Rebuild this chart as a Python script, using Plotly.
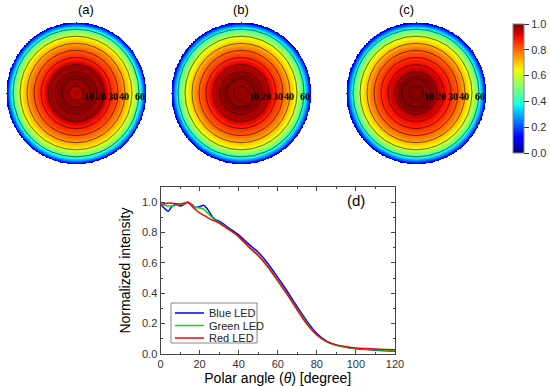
import numpy as np
import plotly.graph_objects as go

# ---------------- data ----------------
angles = [0, 2, 4, 6, 8, 10, 12, 14, 16, 18, 20, 22, 24, 26, 28, 30, 35, 40, 45,
          50, 55, 60, 65, 70, 75, 80, 85, 90, 95, 100, 105, 110, 115, 120]
blue_led = [0.985, 0.96, 0.94, 0.975, 0.985, 0.975, 0.985, 1.0, 0.985, 0.965, 0.97,
            0.98, 0.955, 0.915, 0.885, 0.875, 0.83, 0.785, 0.725, 0.67, 0.595, 0.505,
            0.41, 0.31, 0.215, 0.135, 0.085, 0.058, 0.045, 0.035, 0.03, 0.025, 0.022, 0.02]
green_led = [0.985, 0.98, 0.975, 0.975, 0.98, 0.985, 0.99, 1.0, 0.98, 0.965, 0.962,
             0.955, 0.93, 0.905, 0.88, 0.865, 0.82, 0.77, 0.705, 0.645, 0.57, 0.48,
             0.39, 0.295, 0.2, 0.125, 0.082, 0.058, 0.045, 0.037, 0.032, 0.028, 0.025, 0.024]
red_led = [0.987, 0.99, 0.995, 0.993, 0.99, 0.988, 0.993, 1.0, 0.975, 0.95, 0.93,
           0.915, 0.9, 0.885, 0.875, 0.862, 0.82, 0.775, 0.71, 0.65, 0.575, 0.485,
           0.39, 0.29, 0.195, 0.125, 0.082, 0.06, 0.048, 0.04, 0.036, 0.033, 0.03, 0.028]
series_names = ["Blue LED", "Green LED", "Red LED"]
panel_labels = ["(a)", "(b)", "(c)"]
ring_r = [0.1, 0.2, 0.3, 0.4, 0.5, 0.6, 0.7, 0.8, 0.9]
ring_label_deg = [10, 20, 30, 40, 60]
cbar_ticks = [0.0, 0.2, 0.4, 0.6, 0.8, 1.0]
x_ticks = [0, 20, 40, 60, 80, 100, 120]
y_ticks = [0.0, 0.2, 0.4, 0.6, 0.8, 1.0]

W, H = 550, 386
FONT = "Arial, Liberation Sans, sans-serif"

# jet colorscale (matplotlib style)
def jet_scale(n=41):
    t = np.linspace(0, 1, n)
    r = np.interp(t, [0, 0.35, 0.66, 0.89, 1], [0, 0, 1, 1, 0.5])
    g = np.interp(t, [0, 0.125, 0.375, 0.64, 0.91, 1], [0, 0, 1, 1, 0, 0])
    b = np.interp(t, [0, 0.11, 0.34, 0.65, 1], [0.5, 1, 1, 0, 0])
    return [[float(tt), f"rgb({int(rr*255)},{int(gg*255)},{int(bb*255)})"]
            for tt, rr, gg, bb in zip(t, r, g, b)]

fig = go.Figure()

# ---------------- polar intensity maps ----------------
N = 221
grid = np.linspace(-1, 1, N)
X, Y = np.meshgrid(grid, grid)
R = np.sqrt(X**2 + Y**2)
theta = np.degrees(np.arcsin(np.clip(R, 0, 1)))

centers_px = [76, 241, 416]
rad_px_x = 70
cy_px, rad_px_y = 93, 71
for i, vals in enumerate([blue_led, green_led, red_led]):
    Z = np.interp(theta, angles, vals)
    Z = np.where(R <= 1.0, Z, np.nan)
    ax = str(i + 2)
    fig.add_trace(go.Heatmap(x=grid, y=grid, z=Z, coloraxis="coloraxis",
                             zsmooth="best", xaxis="x" + ax, yaxis="y" + ax,
                             hoverinfo="skip", showlegend=False))
    cx = centers_px[i]
    fig.update_layout(**{
        "xaxis" + ax: dict(domain=[(cx - rad_px_x) / W, (cx + rad_px_x) / W],
                           range=[-1, 1], visible=False, anchor="y" + ax),
        "yaxis" + ax: dict(domain=[1 - (cy_px + rad_px_y) / H, 1 - (cy_px - rad_px_y) / H],
                           range=[-1, 1], visible=False, anchor="x" + ax),
    })
    for rr in ring_r:
        fig.add_shape(type="circle", xref="x" + ax, yref="y" + ax,
                      x0=-rr, x1=rr, y0=-rr, y1=rr,
                      line=dict(color="rgba(0,0,0,0.7)", width=0.8))
    for d in ring_label_deg:
        fig.add_annotation(x=1.06 * float(np.sin(np.radians(d))), y=-0.05,
                           xref="x" + ax, yref="y" + ax,
                           text=f"<b>{d}</b>", showarrow=False,
                           font=dict(family="Liberation Serif, Times New Roman, serif", size=10, color="black"))
    fig.add_annotation(x=cx / W, y=1 - 10 / H, xref="paper", yref="paper",
                       text=panel_labels[i], showarrow=False, yanchor="middle",
                       font=dict(family=FONT, size=13, color="black"))

# ---------------- line chart ----------------
colors = ["rgb(0,0,255)", "rgb(0,230,0)", "rgb(255,0,0)"]
for name, vals, c in zip(series_names, [blue_led, green_led, red_led], colors):
    fig.add_trace(go.Scatter(x=angles, y=vals, mode="lines", name=name,
                             line=dict(color=c, width=1.5, shape="spline", smoothing=0.6),
                             xaxis="x", yaxis="y", showlegend=False))

axis_common = dict(showline=True, linecolor="#444", linewidth=1, mirror="ticks",
                   ticks="inside", ticklen=4, tickcolor="#444", showgrid=False,
                   zeroline=False, tickfont=dict(family=FONT, size=11, color="#333"))
fig.update_layout(
    xaxis=dict(domain=[160.5 / W, 395 / W], range=[0, 120], tickvals=x_ticks,
               minor=dict(ticks="inside", ticklen=2, dtick=10, tickcolor="#444"),
               title=dict(text="Polar angle (<i>θ</i>) [degree]", standoff=0,
                          font=dict(family=FONT, size=14, color="black")),
               anchor="y", **axis_common),
    yaxis=dict(domain=[1 - 354 / H, 1 - 187 / H], range=[0, 1.1], tickvals=y_ticks,
               ticktext=[f"{v:.1f}" for v in y_ticks],
               minor=dict(ticks="inside", ticklen=2, dtick=0.1, tickcolor="#444"),
               title=dict(text="Normalized intensity", standoff=8,
                          font=dict(family=FONT, size=14, color="black")),
               anchor="x", **axis_common),
)
fig.add_annotation(x=367 / W, y=1 - 201 / H, xref="paper", yref="paper", text="(d)",
                   showarrow=False, font=dict(family=FONT, size=15, color="black"))

# ---------------- legend (drawn in paper space) ----------------
lg_x0, lg_x1, lg_y0, lg_y1 = 171, 257, 303, 343
fig.add_shape(type="rect", xref="paper", yref="paper",
              x0=lg_x0 / W, x1=lg_x1 / W, y0=1 - lg_y1 / H, y1=1 - lg_y0 / H,
              line=dict(color="#888", width=1), fillcolor="white", layer="above")
for k, (name, c) in enumerate(zip(series_names, colors)):
    yy = 1 - (lg_y0 + 10 + k * 12.5) / H
    fig.add_shape(type="line", xref="paper", yref="paper",
                  x0=(lg_x0 + 4) / W, x1=(lg_x0 + 33) / W, y0=yy, y1=yy,
                  line=dict(color=c, width=1.5), layer="above")
    fig.add_annotation(x=(lg_x0 + 36) / W, y=yy, xref="paper", yref="paper",
                       text=name, showarrow=False, xanchor="left", yanchor="middle",
                       font=dict(family=FONT, size=11, color="#222"))

fig.update_layout(
    width=W, height=H, margin=dict(l=0, r=0, t=0, b=0, autoexpand=False),
    paper_bgcolor="white", plot_bgcolor="white",
    font=dict(family=FONT, color="black"),
    showlegend=False,
    coloraxis=dict(cmin=0, cmax=1, colorscale=jet_scale(),
                   colorbar=dict(x=513 / W, xanchor="left", xpad=0, ypad=0,
                                 y=1 - 24 / H, yanchor="top", len=129 / H, lenmode="fraction",
                                 thickness=11, outlinewidth=1, outlinecolor="#888",
                                 tickvals=cbar_ticks, ticktext=[f"{v:.1f}" for v in cbar_ticks],
                                 ticks="outside", ticklen=5, tickcolor="#333",
                                 tickfont=dict(family=FONT, size=11, color="#333"))),
)

fig.write_html("out.html", config={"displayModeBar": False},
               post_script="document.body.style.margin='0';document.body.style.padding='0';")
